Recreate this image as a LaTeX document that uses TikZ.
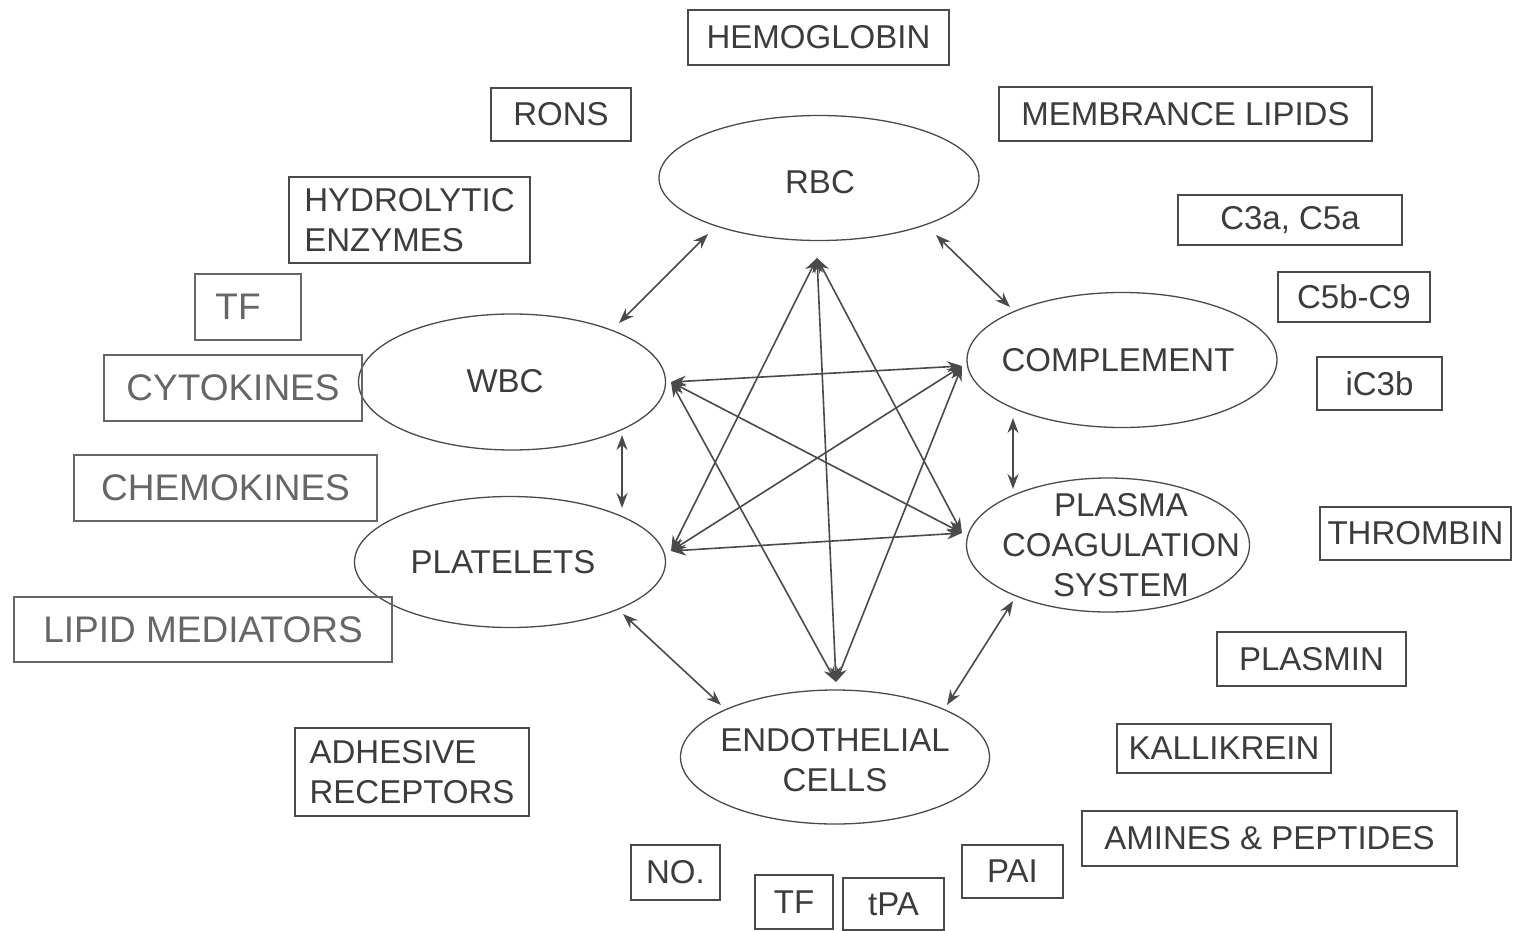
\documentclass[tikz,border=0pt]{standalone}
\usepackage{fontspec}
\setmainfont{Liberation Sans}
\usetikzlibrary{shapes.geometric,arrows.meta}
\definecolor{ink}{HTML}{3C3C3C}
\definecolor{linegray}{HTML}{4A4A4A}
\definecolor{lightink}{HTML}{666666}
\begin{document}
\begin{tikzpicture}[x=1pt,y=-1pt,
 box/.style={draw=linegray,line width=1.3pt,text=ink,font=\fontsize{33}{40}\selectfont,inner sep=0pt,align=center},
 leftbox/.style={box,align=left},
 bigbox/.style={draw=lightink,line width=1.5pt,text=lightink,font=\fontsize{37}{44}\selectfont,inner sep=0pt},
 cell/.style={ellipse,draw=linegray,line width=1.3pt,inner sep=0pt},
 celltext/.style={text=ink,font=\fontsize{33}{40}\selectfont,inner sep=0pt,align=center},
 link/.style={draw=linegray,line width=1.6pt,{Stealth[length=15pt,width=11pt]}-{Stealth[length=15pt,width=11pt]}}]
\useasboundingbox[fill=white] (0,0) rectangle (1513,930);

% cells
\node[cell,minimum width=320pt,minimum height=125pt] (rbc) at (819,178) {};
\node[cell,minimum width=307pt,minimum height=136pt] (wbc) at (512,382) {};
\node[cell,minimum width=310pt,minimum height=135pt] (comp) at (1122,360) {};
\node[cell,minimum width=311pt,minimum height=131pt] (plat) at (510,562) {};
\node[cell,minimum width=283pt,minimum height=134pt] (plasma) at (1108,545) {};
\node[cell,minimum width=309pt,minimum height=134pt] (endo) at (835,757) {};
\node[celltext] (rbcT) at (820,182) {RBC};
\node[celltext] (wbcT) at (505,381) {WBC};
\node[celltext] (compT) at (1118,360) {COMPLEMENT};
\node[celltext] (platT) at (503,562) {PLATELETS};
\node[celltext] (plasmaT) at (1121,545) {PLASMA\\COAGULATION\\SYSTEM};
\node[celltext] (endoT) at (835,760) {ENDOTHELIAL\\CELLS};

% mediator boxes
\node[box,minimum width=261pt,minimum height=55pt] (hemo) at (818.5,37.5) {HEMOGLOBIN};
\node[box,minimum width=140pt,minimum height=53pt] (rons) at (561,114.5) {RONS};
\node[box,minimum width=373pt,minimum height=54pt] (memb) at (1185.5,114) {MEMBRANCE LIPIDS};
\node[leftbox,minimum width=241pt,minimum height=86pt] (hydro) at (409.5,220) {HYDROLYTIC\\ENZYMES};
\node[box,minimum width=224pt,minimum height=50pt] (c3a) at (1290,220) {C3a, C5a};
\node[box,minimum width=152pt,minimum height=50pt] (c5b) at (1354,297) {C5b-C9};
\node[box,minimum width=125pt,minimum height=53pt] (ic3b) at (1379.5,383.5) {iC3b};
\node[bigbox,minimum width=106pt,minimum height=66pt] (tfl) at (248,307) {TF\hspace*{20pt}};
\node[bigbox,minimum width=258pt,minimum height=66pt] (cyto) at (233,388) {CYTOKINES};
\node[bigbox,minimum width=303pt,minimum height=66pt] (chemo) at (225.5,488) {CHEMOKINES};
\node[bigbox,minimum width=378pt,minimum height=65pt] (lipid) at (203,629.5) {LIPID MEDIATORS};
\node[box,minimum width=191pt,minimum height=53pt] (thromb) at (1415.5,533.5) {THROMBIN};
\node[box,minimum width=189pt,minimum height=54pt] (plasmin) at (1311.5,659) {PLASMIN};
\node[box,minimum width=214pt,minimum height=49pt] (kalli) at (1224,748.5) {KALLIKREIN};
\node[box,minimum width=375pt,minimum height=55pt] (amines) at (1269.5,838.5) {AMINES \& PEPTIDES};
\node[box,minimum width=101pt,minimum height=53pt] (pai) at (1012.5,871.5) {PAI};
\node[box,minimum width=89pt,minimum height=55pt] (no) at (675.5,872.5) {NO.};
\node[box,minimum width=78pt,minimum height=54pt] (tfb) at (794,902) {TF};
\node[box,minimum width=101pt,minimum height=52pt] (tpa) at (893.5,904) {tPA};
\node[leftbox,minimum width=234pt,minimum height=88pt] (adh) at (412,772) {ADHESIVE\\RECEPTORS};

% connector end points
\coordinate (rbcA) at (708,234);
\coordinate (wbcA) at (619,323);
\coordinate (rbcB) at (936,235);
\coordinate (compA) at (1010,307);
\coordinate (wbcB) at (622,435);
\coordinate (platA) at (622,508);
\coordinate (compB) at (1013,418);
\coordinate (plasmaA) at (1013,489);
\coordinate (platB) at (623,614);
\coordinate (endoA) at (721,705);
\coordinate (plasmaB) at (1013,601);
\coordinate (endoB) at (947,705);

\coordinate (sR) at (817,258);
\coordinate (sW) at (671,382);
\coordinate (sC) at (962,366);
\coordinate (sP) at (671,551);
\coordinate (sQ) at (962,533);
\coordinate (sE) at (836,682);

% neighbour links
\draw[link] (rbcA) -- (wbcA);
\draw[link] (rbcB) -- (compA);
\draw[link] (wbcB) -- (platA);
\draw[link] (compB) -- (plasmaA);
\draw[link] (platB) -- (endoA);
\draw[link] (plasmaB) -- (endoB);

% star links
\draw[link] (sR) -- (sP);
\draw[link] (sR) -- (sQ);
\draw[link] (sR) -- (sE);
\draw[link] (sW) -- (sC);
\draw[link] (sW) -- (sQ);
\draw[link] (sW) -- (sE);
\draw[link] (sC) -- (sP);
\draw[link] (sC) -- (sE);
\draw[link] (sP) -- (sQ);
\end{tikzpicture}
\end{document}
